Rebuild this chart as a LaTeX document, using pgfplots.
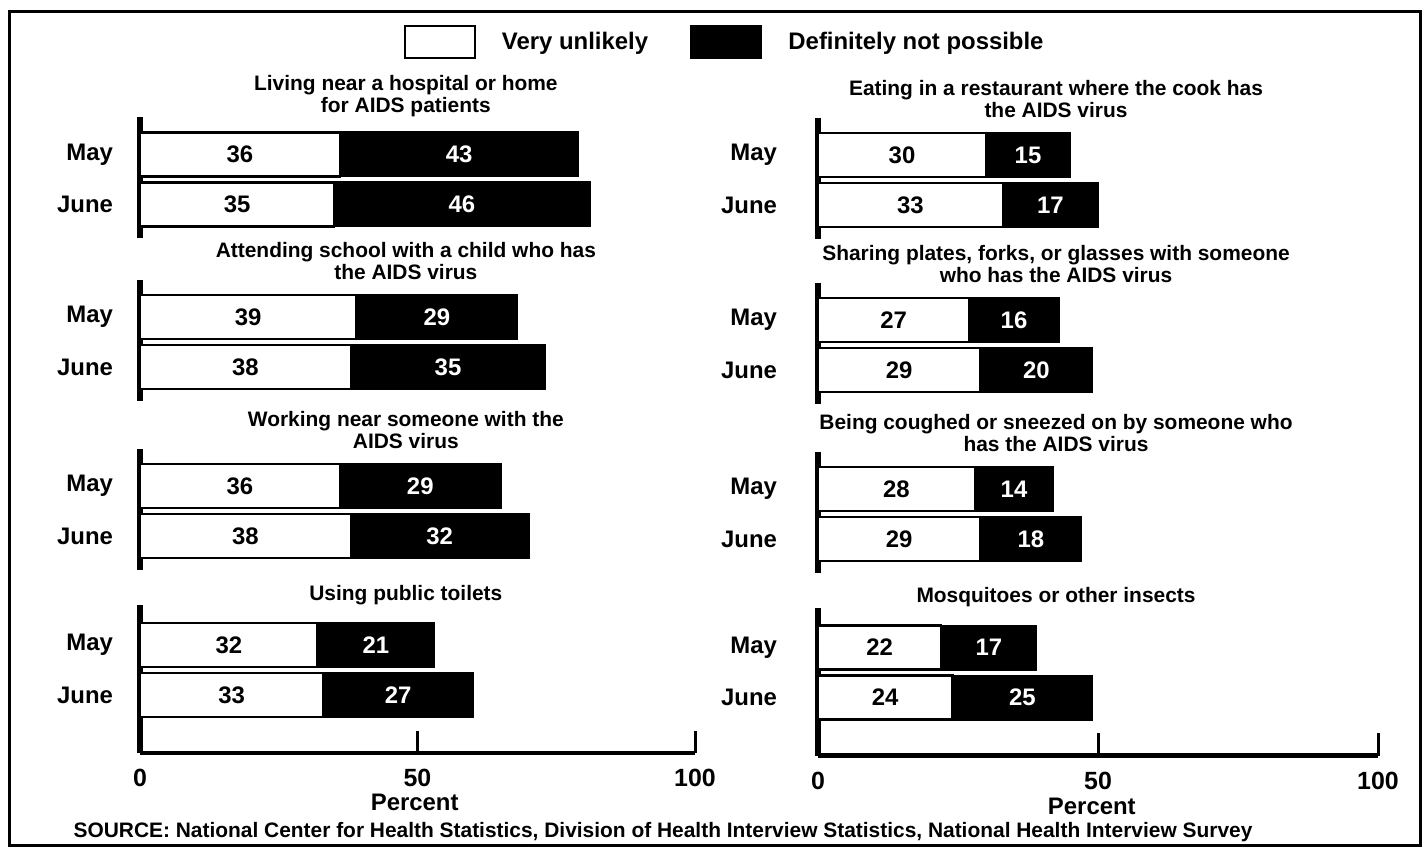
\documentclass[border=0pt]{standalone}
\usepackage{fontspec}
\setmainfont{Liberation Sans}
\usepackage{pgfplots}
\usepackage{pgfplotstable}
\pgfplotsset{compat=1.18}

% columns: y (1 = May, 0 = June), vu = very unlikely, dn = definitely not possible
\pgfplotstableread{
y vu dn
1 36 43
0 35 46
}\hospital
\pgfplotstableread{
y vu dn
1 39 29
0 38 35
}\school
\pgfplotstableread{
y vu dn
1 36 29
0 38 32
}\working
\pgfplotstableread{
y vu dn
1 32 21
0 33 27
}\toilets
\pgfplotstableread{
y vu dn
1 30 15
0 33 17
}\restaurant
\pgfplotstableread{
y vu dn
1 27 16
0 29 20
}\plates
\pgfplotstableread{
y vu dn
1 28 14
0 29 18
}\coughed
\pgfplotstableread{
y vu dn
1 22 17
0 24 25
}\insects

\newcommand{\numfont}{\bfseries\fontsize{12}{14}\selectfont}

\pgfplotsset{
  /pgf/number format/assume math mode=true,
  panel/.style={
    scale only axis, clip=false,
    xmin=0, xmax=100, ymin=-0.68, ymax=1.74,
    y=25bp,
    axis x line*=bottom,
    hide x axis,
    axis y line*=left,
    y axis line style={line width=2.6bp, black},
    ytick={0,1}, yticklabels={June,May},
    ytick style={draw=none},
    yticklabel style={font=\bfseries\fontsize{12}{14}\selectfont},
    title style={at={(axis description cs:0.479,1)}, anchor=south, inner sep=0pt, yshift=-6bp,
      align=center, font=\bfseries\fontsize{10.5}{11}\selectfont},
  },
  leftcol/.style={x=2.775bp, yticklabel style={xshift=-10bp}},
  rightcol/.style={x=2.8bp, yticklabel style={xshift=-17bp},
    title style={at={(axis description cs:0.425,1)}}},
  bottompanel/.style={
    ymin=-1.16, ymax=1.8,
    hide x axis=false,
    x axis line style={line width=2bp, black},
    xtick={0,50,100},
    tick align=inside,
    major tick length=11bp,
    xtick style={line width=1.5bp, black},
    xticklabel style={anchor=center, yshift=-12.5bp, font=\bfseries\fontsize{12.5}{14}\selectfont},
    xlabel={Percent},
    xlabel style={at={(axis description cs:0.495,0)}, anchor=center, yshift=-24.5bp,
      font=\bfseries\fontsize{12}{14}\selectfont},
  },
}

\newcommand{\panelbars}[1]{%
  \addplot[xbar, bar width=0.88, bar shift=0pt, fill=black, draw=black, line width=1bp, forget plot]
    table[x expr=\thisrow{vu}+\thisrow{dn}, y=y]{#1};
  \addplot[xbar, bar width=0.88, bar shift=0pt, fill=white, draw=black, line width=1.2bp, forget plot]
    table[x=vu, y=y]{#1};
  \addplot[draw=none, forget plot, nodes near coords, point meta=explicit,
    every node near coord/.append style={anchor=center, font=\numfont, text=black}]
    table[x expr=\thisrow{vu}/2, y=y, meta=vu]{#1};
  \addplot[draw=none, forget plot, nodes near coords, point meta=explicit,
    every node near coord/.append style={anchor=center, font=\numfont, text=white}]
    table[x expr=\thisrow{vu}+\thisrow{dn}/2, y=y, meta=dn]{#1};
}

\begin{document}
\begin{tikzpicture}
\useasboundingbox (0bp,0bp) rectangle (713.5bp,427bp);
\draw[line width=1.5bp] (4.5bp,4bp) rectangle (710bp,421bp);

% left column
\begin{axis}[panel, leftcol, at={(70bp,307.75bp)}, anchor=south west,
  title={Living near a hospital or home\\for AIDS patients},
  legend style={at={(axis description cs:1.055,1.624)}, anchor=center, draw=none, fill=none,
    legend columns=-1, font=\bfseries\fontsize{12}{14}\selectfont,
    /tikz/every odd column/.append style={column sep=11bp},
    /tikz/every even column/.append style={column sep=19bp}},
  legend image code/.code={\draw[#1] (0bp,-8bp) rectangle (35bp,8bp);},
]
\addlegendimage{fill=white, draw=black, line width=1.2bp}
\addlegendentry{Very unlikely}
\addlegendimage{fill=black, draw=black, line width=1.2bp}
\addlegendentry{Definitely not possible}
\panelbars{\hospital}
\end{axis}

\begin{axis}[panel, leftcol, at={(70bp,226.5bp)}, anchor=south west,
  title={Attending school with a child who has\\the AIDS virus}]
\panelbars{\school}
\end{axis}

\begin{axis}[panel, leftcol, at={(70bp,142bp)}, anchor=south west,
  title={Working near someone with the\\AIDS virus}]
\panelbars{\working}
\end{axis}

\begin{axis}[panel, leftcol, bottompanel, at={(70bp,50.5bp)}, anchor=south west,
  title={Using public toilets}]
\panelbars{\toilets}
\end{axis}

% right column
\begin{axis}[panel, rightcol, at={(409bp,307.5bp)}, anchor=south west,
  title={Eating in a restaurant where the cook has\\the AIDS virus}]
\panelbars{\restaurant}
\end{axis}

\begin{axis}[panel, rightcol, at={(409bp,225bp)}, anchor=south west,
  title={Sharing plates, forks, or glasses with someone\\who has the AIDS virus}]
\panelbars{\plates}
\end{axis}

\begin{axis}[panel, rightcol, at={(409bp,140.5bp)}, anchor=south west,
  title={Being coughed or sneezed on by someone who\\has the AIDS virus}]
\panelbars{\coughed}
\end{axis}

\begin{axis}[panel, rightcol, bottompanel, at={(409bp,49.25bp)}, anchor=south west,
  title={Mosquitoes or other insects},
  xlabel style={at={(axis description cs:0.489,0)}, yshift=-1bp}]
\panelbars{\insects}
\end{axis}

\node[font=\bfseries\fontsize{10.5}{12}\selectfont] at (331.5bp,11bp)
  {SOURCE: National Center for Health Statistics, Division of Health Interview Statistics, National Health Interview Survey};
\end{tikzpicture}
\end{document}
